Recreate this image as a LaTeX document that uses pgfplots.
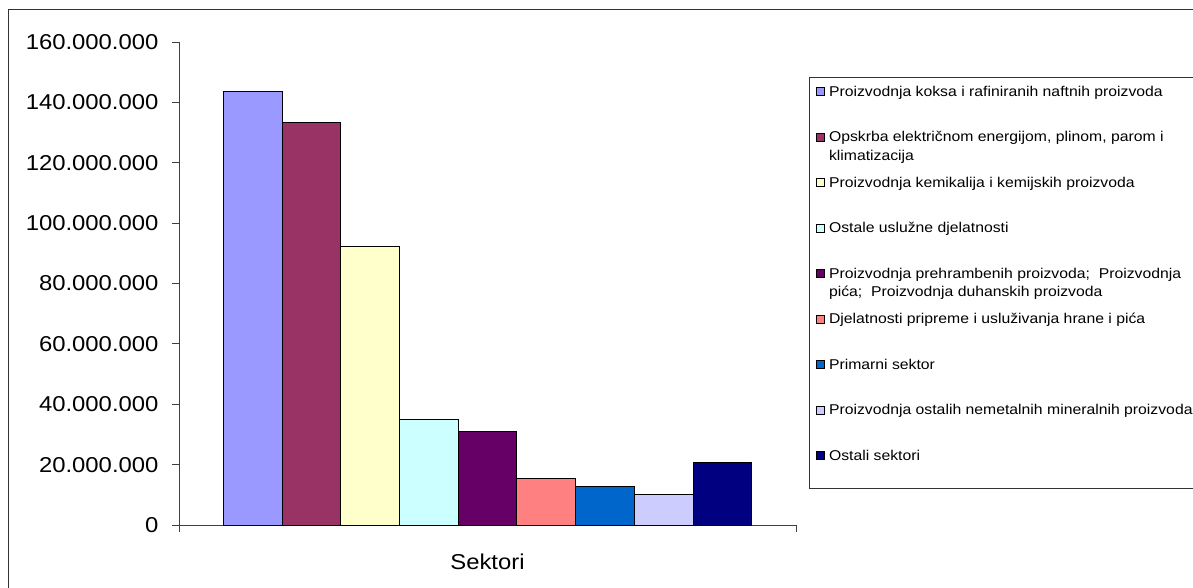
\documentclass[border=0pt]{standalone}
\usepackage{fontspec}
\setmainfont{Liberation Sans}
\newfontfamily\wfont[FakeStretch=1.11]{Liberation Sans}
\usepackage{pgfplots}
\pgfplotsset{compat=1.18}
\definecolor{c1}{HTML}{9999FF}
\definecolor{c2}{HTML}{993366}
\definecolor{c3}{HTML}{FFFFCC}
\definecolor{c4}{HTML}{CCFFFF}
\definecolor{c5}{HTML}{660066}
\definecolor{c6}{HTML}{FF8080}
\definecolor{c7}{HTML}{0066CC}
\definecolor{c8}{HTML}{CCCCFF}
\definecolor{c9}{HTML}{000080}
\newcommand{\two}[2]{\vtop{\hbox{#1}\hbox{#2}}}
\begin{document}
\begin{tikzpicture}
\path[use as bounding box] (0pt,0pt) rectangle (1193pt,587pt);
\clip (0pt,0pt) rectangle (1193pt,587pt);
\fill[white] (0pt,0pt) rectangle (1193pt,587pt);
\draw[black!80, line width=1pt] (8.5pt,-20pt) -- (8.5pt,577pt) -- (1220pt,577pt);
\begin{axis}[
  at={(179pt,62pt)}, anchor=south west, scale only axis,
  width=617pt, height=483pt,
  xmin=-1.2545, xmax=9.2545, ymin=0, ymax=160000000,
  axis x line*=bottom, axis y line*=left,
  axis line style={-, black!75, line width=0.8pt},
  tick style={black!75, line width=0.8pt},
  tick align=outside, major tick length=7pt,
  ytick={0,20000000,40000000,60000000,80000000,100000000,120000000,140000000,160000000},
  xtick={-1.2545,9.2545}, xticklabels={},
  scaled y ticks=false,
  yticklabel style={xshift=-10pt, /pgf/number format/.cd, fixed, precision=0, 1000 sep={.}, assume math mode=true},
  tick label style={font=\wfont\fontsize{21.5}{24}\selectfont},
  xlabel={Sektori},
  xlabel style={at={(axis description cs:0.5,0)}, anchor=base, yshift=-44pt, font=\wfont\fontsize{21.5}{24}\selectfont},
  legend style={at={(1.02107,0.92754)}, anchor=north west, draw=black!80, line width=0.8pt,
    inner xsep=7pt, inner ysep=9pt, row sep=0pt, column sep=4pt,
    font=\wfont\fontsize{14.2}{18.5}\selectfont,
    cells={anchor=base west},
    nodes={inner sep=0pt, text height=10pt, text depth=35.5pt}},
  legend image code/.code={\draw[#1, draw=black, line width=0.6pt] (0pt,1pt) rectangle (8pt,9pt);},
]
\addplot[ybar, bar width=58.67pt, bar shift=0pt, fill=c1, draw=black, line width=0.8pt] coordinates {(0,143500000)};
\addlegendentry{Proizvodnja koksa i rafiniranih naftnih proizvoda}
\addplot[ybar, bar width=58.67pt, bar shift=0pt, fill=c2, draw=black, line width=0.8pt] coordinates {(1,133400000)};
\addlegendentry{\two{Opskrba električnom energijom, plinom, parom i}{klimatizacija}}
\addplot[ybar, bar width=58.67pt, bar shift=0pt, fill=c3, draw=black, line width=0.8pt] coordinates {(2,92300000)};
\addlegendentry{Proizvodnja kemikalija i kemijskih proizvoda}
\addplot[ybar, bar width=58.67pt, bar shift=0pt, fill=c4, draw=black, line width=0.8pt] coordinates {(3,35100000)};
\addlegendentry{Ostale uslužne djelatnosti}
\addplot[ybar, bar width=58.67pt, bar shift=0pt, fill=c5, draw=black, line width=0.8pt] coordinates {(4,31000000)};
\addlegendentry{\two{Proizvodnja prehrambenih proizvoda;\ \ Proizvodnja}{pića;\ \ Proizvodnja duhanskih proizvoda}}
\addplot[ybar, bar width=58.67pt, bar shift=0pt, fill=c6, draw=black, line width=0.8pt] coordinates {(5,15500000)};
\addlegendentry{Djelatnosti pripreme i usluživanja hrane i pića}
\addplot[ybar, bar width=58.67pt, bar shift=0pt, fill=c7, draw=black, line width=0.8pt] coordinates {(6,12700000)};
\addlegendentry{Primarni sektor}
\addplot[ybar, bar width=58.67pt, bar shift=0pt, fill=c8, draw=black, line width=0.8pt] coordinates {(7,10200000)};
\addlegendentry{Proizvodnja ostalih nemetalnih mineralnih proizvoda}
\addplot[ybar, bar width=58.67pt, bar shift=0pt, fill=c9, draw=black, line width=0.8pt] coordinates {(8,20800000)};
\addlegendentry[text depth=19pt]{Ostali sektori}
\end{axis}
\end{tikzpicture}
\end{document}
